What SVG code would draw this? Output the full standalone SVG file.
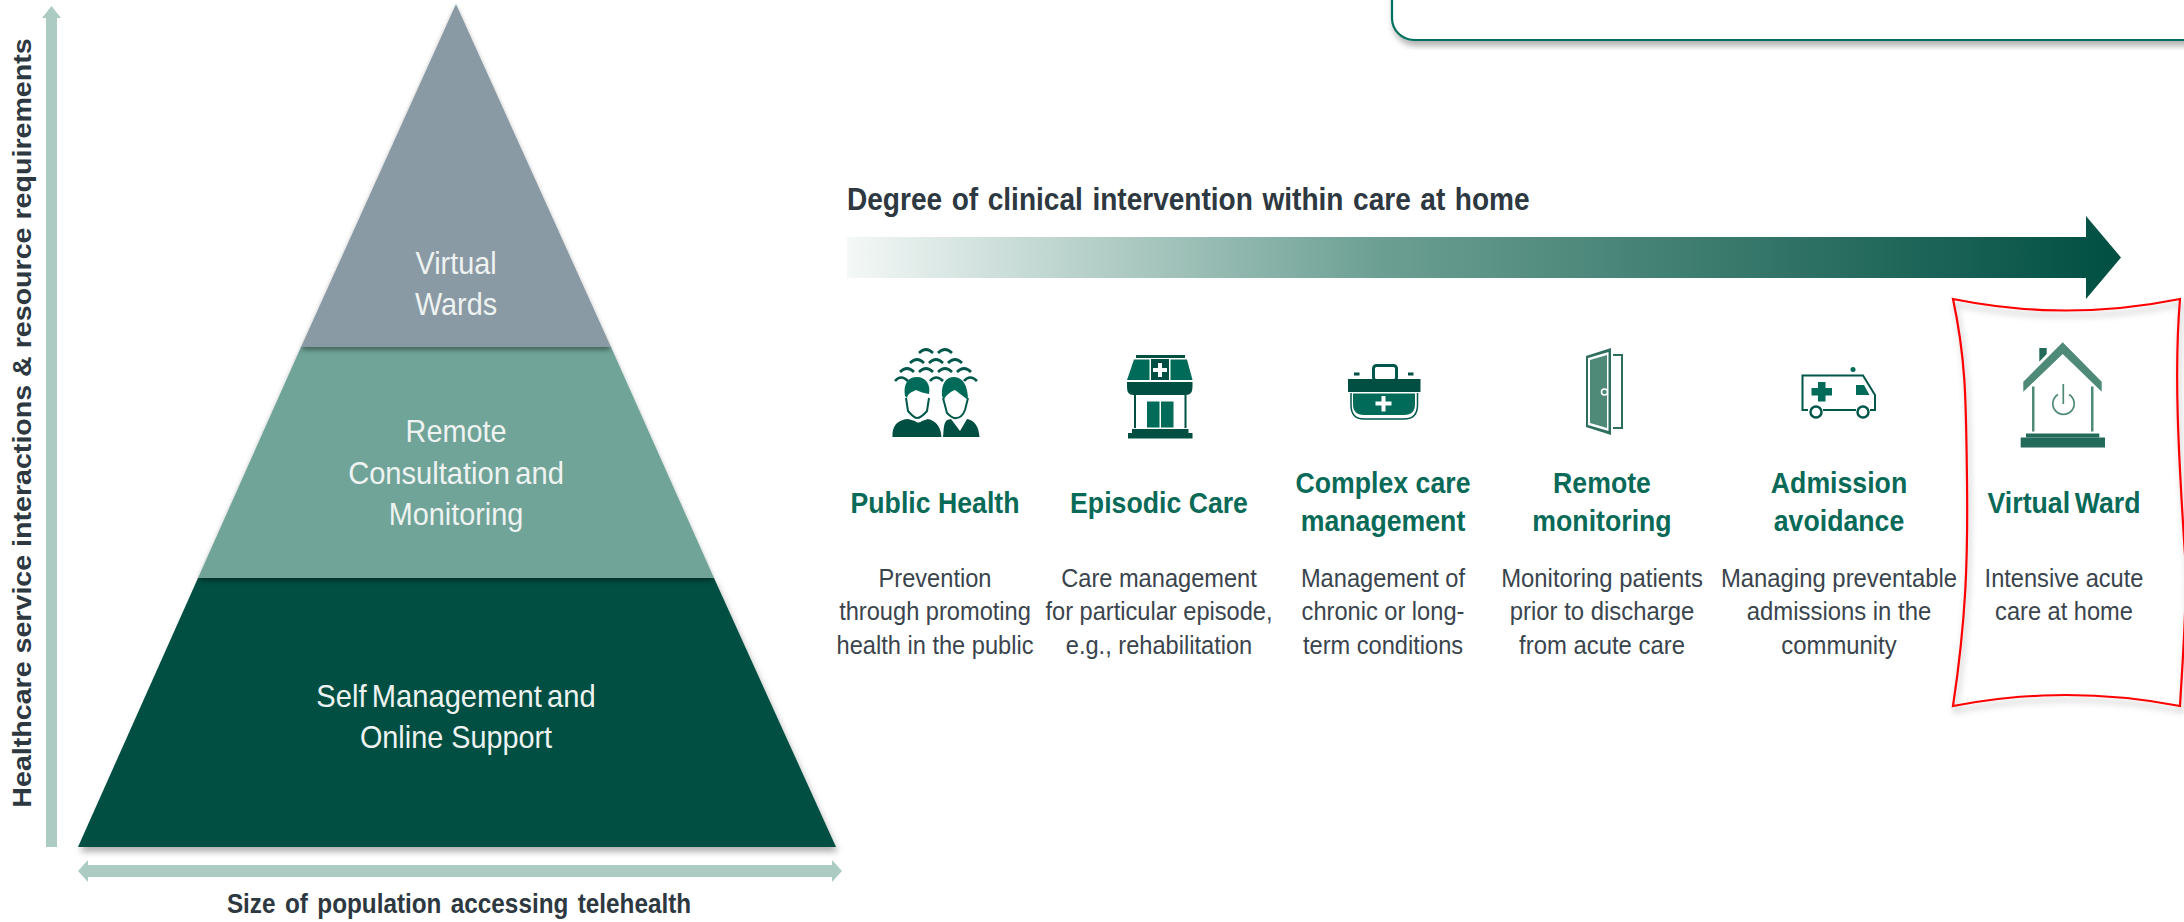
<svg xmlns="http://www.w3.org/2000/svg" width="2184" height="922" viewBox="0 0 2184 922">
<style>
text{font-family:"Liberation Sans",Arial,sans-serif;text-anchor:middle}
.p{font-size:32px;fill:#eef3f2}
.h{font-size:29px;font-weight:700;fill:#0a6a58}
.b{font-size:25px;fill:#3a444d}
.a{font-size:29px;font-weight:700;fill:#2d3841}
.ar{fill:#abcbc3}
.d{fill:#004f42}
.m{fill:#006b58}
.l{fill:#4f8a78}
.w{fill:#fff}
</style>
<defs>
<linearGradient id="g" gradientUnits="userSpaceOnUse" x1="847" x2="2121" y1="0" y2="0"><stop offset="0" stop-color="#f4f8f7"/><stop offset=".42" stop-color="#6b9f92"/><stop offset="1" stop-color="#004f42"/></linearGradient>
<filter id="sh" x="-5%" y="-5%" width="110%" height="115%"><feDropShadow dx="2" dy="5" stdDeviation="3" flood-color="#000" flood-opacity=".3"/></filter>
<filter id="ps" x="-5%" y="-5%" width="110%" height="115%"><feDropShadow dx="0" dy="3" stdDeviation="2.500" flood-color="#000" flood-opacity=".4"/></filter>
</defs>
<rect width="2184" height="922" fill="#fff"/>

<g id="top-box"><rect x="1392" y="-60" width="860" height="100" rx="22" ry="22" fill="#fff" stroke="#00705f" stroke-width="2.2" filter="url(#sh)"/></g>

<g id="connectors">
<path id="axis-y" class="ar" d="M51.500,6 L61,18 H57 V847 H46 V18 H42Z"/>
<path id="axis-x" class="ar" d="M78,871 L88,860 V865 H832 V860 L842,871 L832,882 V877 H88 V882Z"/>
<path id="degree-arrow" fill="url(#g)" d="M847,237 H2086 V216 L2121,257.500 L2086,299 V278 H847Z"/>
</g>

<g id="axis-labels">
<text class="a" style="font-size:26px" transform="translate(31,423) rotate(-90) scale(1.1,1)">Healthcare service interactions &amp; resource requirements</text>
<text class="a" style="font-size:27px" transform="matrix(.9 0 0 1 459 913)" word-spacing="3">Size of population accessing telehealth</text>
<text class="a" style="text-anchor:start;font-size:31px" transform="matrix(.905 0 0 1 847 210)" word-spacing="2">Degree of clinical intervention within care at home</text>
</g>

<g id="pyramid-self">
<polygon points="198,578 714,578 836,847 78,847" fill="#004f42" filter="url(#sh)"/>
<text class="p" transform="matrix(.91 0 0 1 456 707)" word-spacing="-3">Self Management and</text>
<text class="p" transform="matrix(.9 0 0 1 456 748)">Online Support</text>
</g>
<g id="pyramid-remote">
<polygon points="301,347 611,347 714,578 198,578" fill="#70a498" filter="url(#ps)"/>
<text class="p" transform="matrix(.9 0 0 1 456 442)">Remote</text>
<text class="p" transform="matrix(.91 0 0 1 456 484)" word-spacing="-3">Consultation and</text>
<text class="p" transform="matrix(.9 0 0 1 456 525)">Monitoring</text>
</g>
<g id="pyramid-virtual-wards">
<polygon points="456,4 611,347 301,347" fill="#8a9aa4" filter="url(#ps)"/>
<text class="p" transform="matrix(.9 0 0 1 456 274)">Virtual</text>
<text class="p" transform="matrix(.9 0 0 1 456 315)">Wards</text>
</g>

<g id="public-health">
<g fill="none" stroke="#00574a" stroke-width="2.600">
<path d="M919,353q7,-7 14,0M938,353q7,-7 14,0M910,363q7,-7 14,0M929,363q7,-7 14,0M948,363q7,-7 14,0M900,372q7,-7 14,0M919,372q7,-7 14,0M938,372q7,-7 14,0M957,372q7,-7 14,0M895,381q6,-7 13,0M930,381q6,-7 13,0M964,381q6,-7 13,0"/>
<path stroke-width="2" d="M906,398L908,411Q914,418 917,418Q921,418 927,411L929,398M943,398L947,413Q953,419 956,418Q962,418 965,410L968,398"/>
</g>
<path class="m" d="M905,396C903,384 908,377 917,377C926,377 931,385 929,394C924,393 920,392 916,390C912,392 908,393 907,398Z"/>
<path class="m" d="M942,396C941,384 946,377 954,377C963,377 968,386 968,400L955,390C950,392 945,396 944,400Z"/>
<path class="d" d="M892.500,437C892,426 897,420 908,419L915,421Q918,424 922,421L928,419C937,421 941,428 941.500,437Z"/>
<path class="d" d="M943,437C944,430 943,424 947,420L951,419L960,431L967,419C975,420 979,428 979.500,437Z"/>
<text class="h" transform="matrix(.92 0 0 1 935 513)">Public Health</text>
<text class="b" transform="matrix(.945 0 0 1 935 587)">Prevention</text>
<text class="b" transform="matrix(.945 0 0 1 935 620)">through promoting</text>
<text class="b" transform="matrix(.945 0 0 1 935 654)">health in the public</text>
</g>

<g id="episodic-care">
<rect class="d" x="1136" y="355" width="49" height="3"/>
<path class="m" d="M1134,359.500H1149.500V380H1127Z"/>
<rect class="d" x="1151" y="359" width="18" height="21"/>
<path class="w" d="M1158,363h4v5h5v4h-5v5h-4v-5h-5v-4h5z"/>
<path class="m" d="M1170.500,359.500H1187L1192.500,380H1170.500Z"/>
<path class="d" d="M1127,382H1192.500V387Q1192.500,395 1186,395H1133Q1127,395 1127,387Z"/>
<rect class="d" x="1134" y="395" width="2" height="33"/>
<rect class="d" x="1184.500" y="395" width="2" height="33"/>
<rect class="m" x="1147" y="401.500" width="12.500" height="26"/>
<rect class="m" x="1161" y="401.500" width="12.500" height="26"/>
<rect class="d" x="1132" y="429" width="56.500" height="4"/>
<rect class="d" x="1128" y="433" width="64.500" height="5.500"/>
<text class="h" transform="matrix(.92 0 0 1 1159 513)">Episodic Care</text>
<text class="b" transform="matrix(.945 0 0 1 1159 587)">Care management</text>
<text class="b" transform="matrix(.945 0 0 1 1159 620)">for particular episode,</text>
<text class="b" transform="matrix(.945 0 0 1 1159 654)">e.g., rehabilitation</text>
</g>

<g id="complex-care">
<rect x="1373.500" y="365.500" width="23" height="15" rx="3" fill="none" stroke="#00574a" stroke-width="3"/>
<rect class="d" x="1354" y="372.500" width="5.500" height="3"/>
<rect class="d" x="1408" y="372.500" width="5.500" height="3"/>
<rect class="d" x="1348" y="379" width="72.500" height="13"/>
<path class="m" d="M1353,393.500H1415V404Q1415,415 1404,415H1364Q1353,415 1353,404Z"/>
<path class="w" d="M1381.500,396h4v5.500h6v4h-6v6h-4v-6h-6v-4h6z"/>
<path fill="none" stroke="#00574a" stroke-width="1.500" d="M1351,393V405Q1351,419 1364,419H1404Q1417.500,419 1417.500,405V393"/>
<text class="h" transform="matrix(.92 0 0 1 1383 493)">Complex care</text>
<text class="h" transform="matrix(.92 0 0 1 1383 531)">management</text>
<text class="b" transform="matrix(.945 0 0 1 1383 587)">Management of</text>
<text class="b" transform="matrix(.945 0 0 1 1383 620)">chronic or long-</text>
<text class="b" transform="matrix(.945 0 0 1 1383 654)">term conditions</text>
</g>

<g id="remote-monitoring">
<path fill="#2e6e5e" d="M1586,356L1611,348V435L1586,427Z"/>
<path class="w" d="M1588,358L1608.500,352V431L1588,425Z"/>
<path class="l" d="M1590,360L1607,355V428L1590,423Z"/>
<circle cx="1604.500" cy="392" r="3" fill="#4f8a78" stroke="#fff" stroke-width="1.500"/>
<path fill="none" stroke="#2e6e5e" stroke-width="2" d="M1613,355H1622V428H1613"/>
<text class="h" transform="matrix(.92 0 0 1 1602 493)">Remote</text>
<text class="h" transform="matrix(.92 0 0 1 1602 531)">monitoring</text>
<text class="b" transform="matrix(.955 0 0 1 1602 587)">Monitoring patients</text>
<text class="b" transform="matrix(.955 0 0 1 1602 620)">prior to discharge</text>
<text class="b" transform="matrix(.955 0 0 1 1602 654)">from acute care</text>
</g>

<g id="admission-avoidance">
<circle class="m" cx="1853" cy="369.500" r="2.500"/>
<path fill="none" stroke="#00574a" stroke-width="2" d="M1808,410H1802.500V375.500H1863L1875,395V410H1870M1823,410H1856"/>
<path class="m" d="M1818,382h7.500v6h6.500v7.500h-6.500v6h-7.500v-6h-6.500v-7.500h6.500z"/>
<path class="m" d="M1856,385H1864L1869.500,395H1856Z"/>
<circle cx="1816" cy="412" r="5.500" fill="#fff" stroke="#00574a" stroke-width="2.500"/>
<circle cx="1863" cy="412" r="5.500" fill="#fff" stroke="#00574a" stroke-width="2.500"/>
<text class="h" transform="matrix(.92 0 0 1 1839 493)">Admission</text>
<text class="h" transform="matrix(.92 0 0 1 1839 531)">avoidance</text>
<text class="b" transform="matrix(.955 0 0 1 1839 587)">Managing preventable</text>
<text class="b" transform="matrix(.955 0 0 1 1839 620)">admissions in the</text>
<text class="b" transform="matrix(.955 0 0 1 1839 654)">community</text>
</g>

<g id="virtual-ward">
<path fill="none" stroke="#f00" stroke-width="2.200" filter="url(#sh)" d="M1953,299Q2066,322 2180,299C2174,370 2178,450 2186,570C2186,620 2182,670 2180,706Q2066,684 1953,706C1966,620 1968,560 1967,480C1966,400 1966,360 1953,299Z"/>
<path fill="#236a5a" d="M2039.300,348H2046.700V354L2039.300,361.700Z"/>
<path class="l" d="M2062.700,342.300L2101.700,381.700V391.700L2062.700,354L2023.300,391.700V381.700Z"/>
<rect class="l" x="2032" y="386.500" width="2.500" height="45"/>
<rect class="l" x="2091" y="386.500" width="2.500" height="45"/>
<path fill="none" stroke="#4f8a78" stroke-width="1.700" d="M2063.300,384V404M2058,394.500A10.700,10.700 0 1 0 2069,394.500"/>
<rect x="2026" y="433.500" width="73.300" height="4" fill="#236a5a"/>
<rect x="2020.700" y="437.500" width="84.300" height="10" fill="#236a5a"/>
<text class="h" transform="matrix(.92 0 0 1 2064 513)" word-spacing="-3">Virtual Ward</text>
<text class="b" transform="matrix(.945 0 0 1 2064 587)">Intensive acute</text>
<text class="b" transform="matrix(.945 0 0 1 2064 620)">care at home</text>
</g>
</svg>
